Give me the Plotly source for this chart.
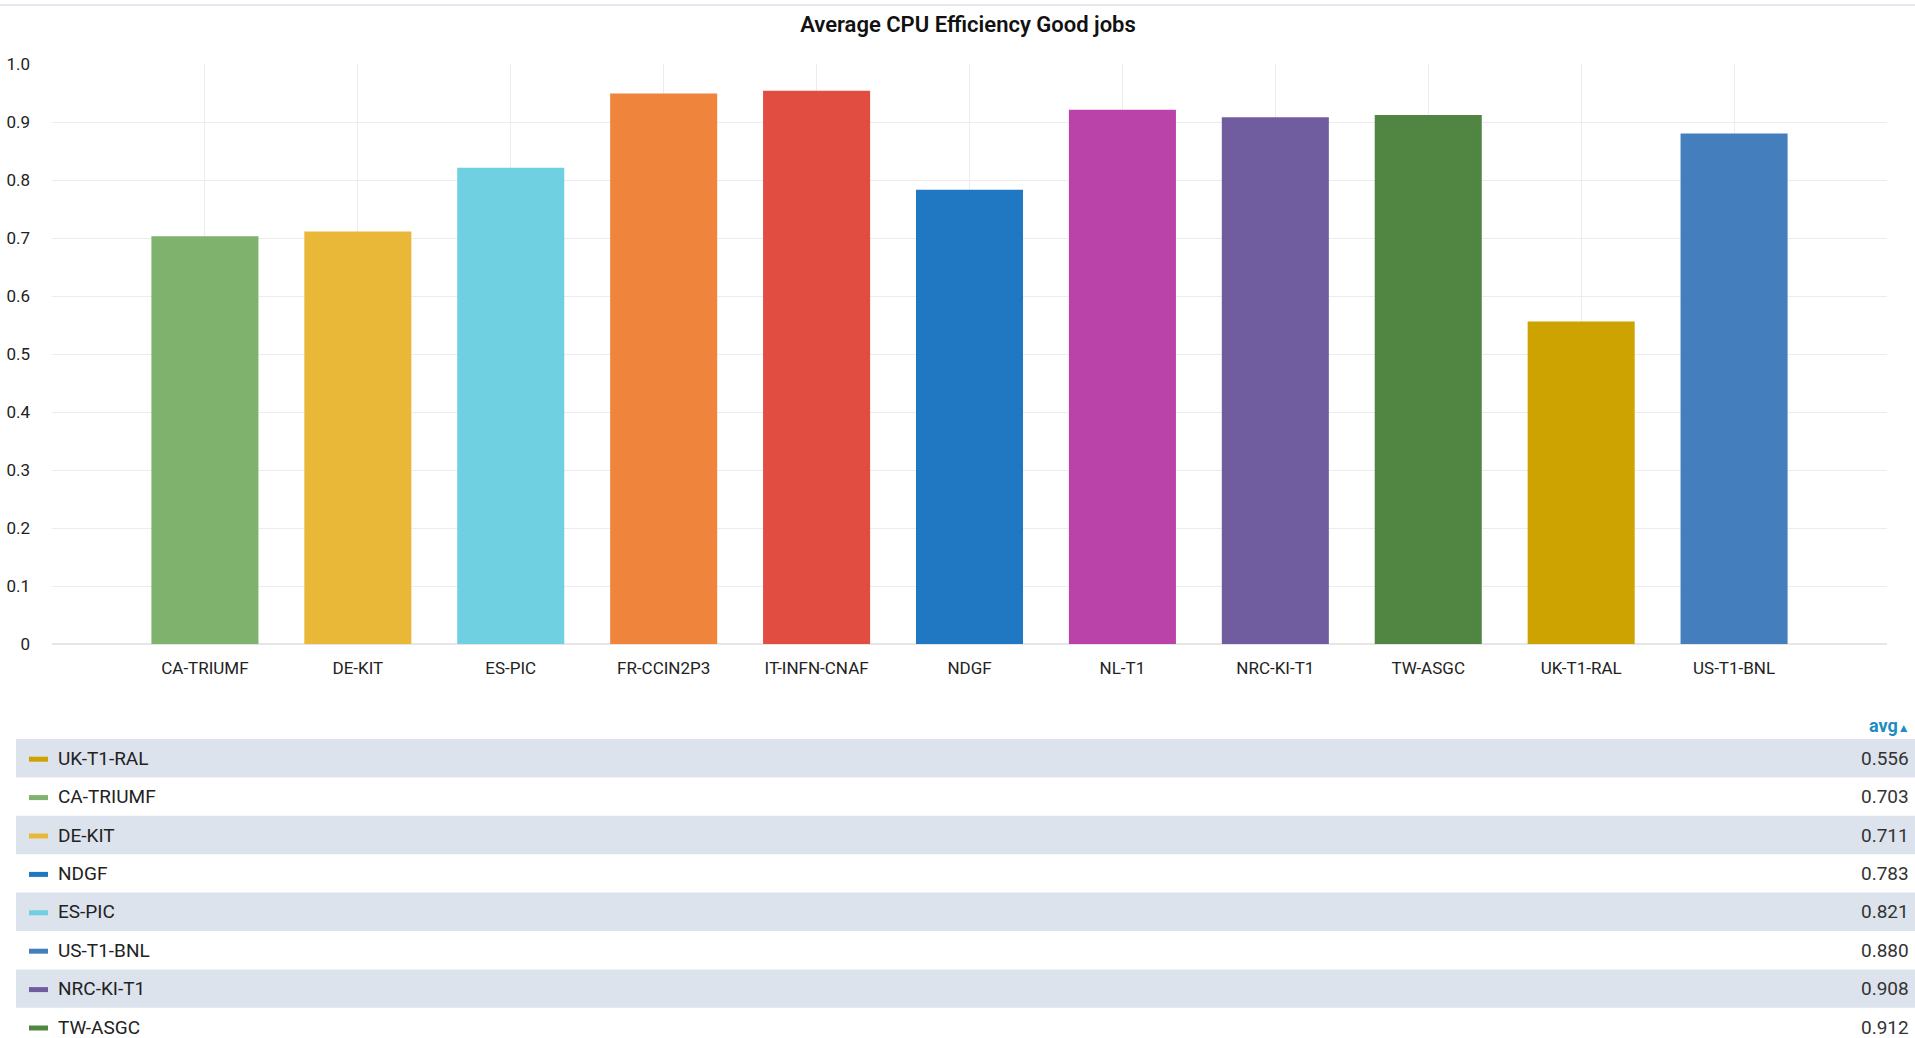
import plotly.graph_objects as go

# ---- data ----
sites = ["CA-TRIUMF", "DE-KIT", "ES-PIC", "FR-CCIN2P3", "IT-INFN-CNAF", "NDGF",
         "NL-T1", "NRC-KI-T1", "TW-ASGC", "UK-T1-RAL", "US-T1-BNL"]
avg_eff = [0.703, 0.711, 0.821, 0.949, 0.954, 0.783, 0.921, 0.908, 0.912, 0.556, 0.880]
colors = ["#7EB26D", "#EAB839", "#6ED0E0", "#EF843C", "#E24D42", "#1F78C1",
          "#BA43A9", "#705DA0", "#508642", "#CCA300", "#447EBC"]
y_ticks = [0, 0.1, 0.2, 0.3, 0.4, 0.5, 0.6, 0.7, 0.8, 0.9, 1.0]
y_tick_text = ["0", "0.1", "0.2", "0.3", "0.4", "0.5", "0.6", "0.7", "0.8", "0.9", "1.0"]
title = "Average CPU Efficiency Good jobs"

# ---- layout geometry (pixels) ----
W, H = 1915, 1038
L, R, T, B = 52, 28, 64, 394
PW, PH = W - L - R, H - T - B


def px(x):
    return (x - L) / PW


def py(y):
    return (H - B - y) / PH


fig = go.Figure()
fig.add_trace(go.Bar(
    x=list(range(len(sites))), y=avg_eff,
    marker=dict(color=colors, line=dict(width=0)),
    width=0.7, showlegend=False, hoverinfo="x+y",
))

shapes = []
annotations = []

# top border line
shapes.append(dict(type="line", xref="paper", yref="paper", x0=px(0), x1=px(W),
                   y0=py(5), y1=py(5), line=dict(color="#dde2ea", width=1.5)))

# legend table, sorted by avg ascending
order = sorted(range(len(sites)), key=lambda i: avg_eff[i])
row_top0, row_h = 739, 38.4
annotations.append(dict(xref="paper", yref="paper", x=px(1912), y=py(725),
                        xanchor="right", yanchor="middle", showarrow=False,
                        text="<b>avg</b><span style='font-size:12px'>▲</span>",
                        font=dict(family="Roboto", size=18, color="#1f8cc0")))
for k, i in enumerate(order):
    top = row_top0 + k * row_h
    if top > H:
        break
    mid = top + row_h / 2
    if k % 2 == 0:
        shapes.append(dict(type="rect", xref="paper", yref="paper", x0=px(16), x1=px(W),
                           y0=py(top), y1=py(top + row_h), fillcolor="#dde3ed",
                           line=dict(width=0), layer="below"))
    shapes.append(dict(type="line", xref="paper", yref="paper", x0=px(29), x1=px(48),
                       y0=py(mid + 1), y1=py(mid + 1), line=dict(color=colors[i], width=5)))
    annotations.append(dict(xref="paper", yref="paper", x=px(56), y=py(mid),
                            xanchor="left", yanchor="middle", showarrow=False,
                            text=sites[i], font=dict(family="Roboto", size=19, color="#222")))
    annotations.append(dict(xref="paper", yref="paper", x=px(1911), y=py(mid),
                            xanchor="right", yanchor="middle", showarrow=False,
                            text=f"{avg_eff[i]:.3f}", font=dict(family="Roboto", size=19, color="#333")))

fig.update_layout(
    width=W, height=H,
    margin=dict(l=L, r=R, t=T, b=B, pad=0, autoexpand=False),
    paper_bgcolor="white", plot_bgcolor="white",
    font=dict(family="Roboto", size=17, color="#333"),
    title=dict(text=title, x=px(968), xref="paper", xanchor="center",
               y=1 - 24 / H, yref="container", yanchor="middle",
               font=dict(family="Roboto", size=22, color="#111", weight=600)),
    xaxis=dict(range=[-1, len(sites)], tickmode="array", tickvals=list(range(len(sites))),
               ticktext=sites, showgrid=True, gridcolor="#ececf0", gridwidth=1,
               zeroline=False, showline=False, ticks="", ticklabelstandoff=12,
               automargin=False,
               tickfont=dict(family="Roboto", size=17, color="#222")),
    yaxis=dict(range=[0, 1.0], tickmode="array", tickvals=y_ticks, ticktext=y_tick_text,
               showgrid=True, gridcolor="#ececf0", gridwidth=1,
               zeroline=True, zerolinecolor="#e6e6e6", zerolinewidth=2,
               showline=False, ticks="", ticklabelstandoff=21, automargin=False,
               tickfont=dict(family="Roboto", size=17, color="#222")),
    shapes=shapes, annotations=annotations,
    bargap=0.3,
)

fig.write_html(
    "out.html",
    config={"displayModeBar": False},
    post_script="document.body.style.margin='0';document.body.style.overflow='hidden';",
)
